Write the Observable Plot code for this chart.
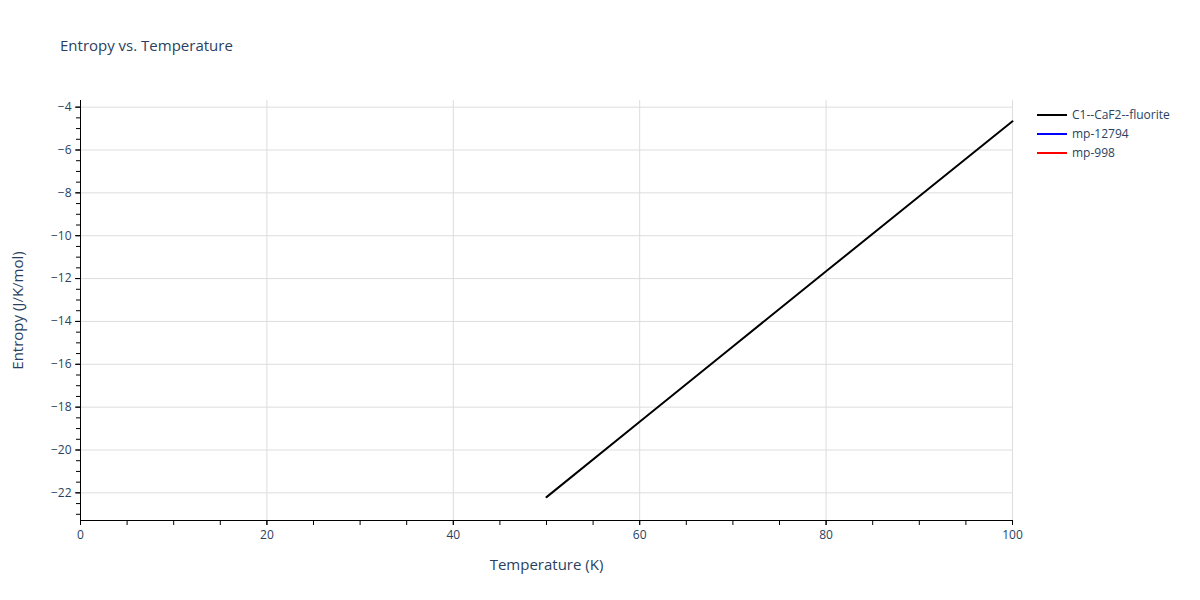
<!DOCTYPE html>
<html>
<head>
<meta charset="utf-8">
<script src="https://cdn.jsdelivr.net/npm/d3@7"></script>
<script src="https://cdn.jsdelivr.net/npm/@observablehq/plot@0.6"></script>
<style>
  html, body { margin: 0; padding: 0; background: #fff; }
  #wrap { position: relative; width: 1200px; height: 600px; font-family: "Open Sans", verdana, arial, sans-serif; color: #2a3f5f; }
  #title { position: absolute; left: 60px; top: 35px; font-size: 15px; }
  #legend { position: absolute; left: 1037px; top: 105px; font-size: 12px; }
  .item { display: flex; align-items: center; height: 19px; }
  .swatch { width: 30px; height: 2px; margin-right: 5px; }
</style>
</head>
<body>
<div id="wrap">
  <div id="chart"></div>
  <div id="title">Entropy vs. Temperature</div>
  <div id="legend"></div>
</div>
<script>
const seriesNames = ["C1--CaF2--fluorite", "mp-12794", "mp-998"];
const seriesColors = ["#000000", "#0000ff", "#ff0000"];
const temperature = [50, 60, 70, 80, 90, 100];
const entropyC1 = [-22.2, -18.68, -15.17, -11.66, -8.16, -4.66];
const xTicks = [0, 20, 40, 60, 80, 100];
const xMinorTicks = d3.range(0, 101, 5);
const yTicks = [-22, -20, -18, -16, -14, -12, -10, -8, -6, -4];
const yMinorTicks = d3.range(-23, -3.6, 0.5);
const xDomain = [0, 100];
const yDomain = [-23.29, -3.69];

const data = temperature.map((t, i) => ({t, s: entropyC1[i], series: seriesNames[0]}));

const chart = Plot.plot({
  width: 1200,
  height: 600,
  marginLeft: 80,
  marginRight: 188,
  marginTop: 100,
  marginBottom: 80,
  style: {fontFamily: "'Open Sans', verdana, arial, sans-serif", fontSize: "12px", color: "#2a3f5f", background: "white"},
  x: {domain: xDomain},
  y: {domain: yDomain},
  marks: [
    Plot.gridX(xTicks, {stroke: "#dddddd", strokeOpacity: 1}),
    Plot.gridY(yTicks, {stroke: "#dddddd", strokeOpacity: 1}),
    Plot.line(data, {x: "t", y: "s", stroke: seriesColors[0], strokeWidth: 2}),
    Plot.ruleX([xDomain[0]], {stroke: "black", strokeWidth: 1}),
    Plot.ruleY([yDomain[0]], {stroke: "black", strokeWidth: 1}),
    Plot.axisX(xMinorTicks, {tickSize: 5, text: null, stroke: "black", label: null}),
    Plot.axisX(xTicks, {tickSize: 5, tickPadding: 5, fill: "#2a3f5f", stroke: "black", fontSize: 12, label: null}),
    Plot.axisY(yMinorTicks, {tickSize: 4, text: null, stroke: "black", label: null}),
    Plot.axisY(yTicks, {tickSize: 5, tickPadding: 4, fill: "#2a3f5f", stroke: "black", fontSize: 12, label: null}),
    Plot.text(["Temperature (K)"], {frameAnchor: "bottom", dy: 49, fontSize: 15, fill: "#2a3f5f"}),
    Plot.text(["Entropy (J/K/mol)"], {frameAnchor: "left", dx: -62, rotate: -90, textAnchor: "middle", fontSize: 15, fill: "#2a3f5f"})
  ]
});
document.getElementById("chart").appendChild(chart);

const legend = document.getElementById("legend");
seriesNames.forEach((name, i) => {
  const item = document.createElement("div");
  item.className = "item";
  const sw = document.createElement("div");
  sw.className = "swatch";
  sw.style.background = seriesColors[i];
  const label = document.createElement("span");
  label.textContent = name;
  item.appendChild(sw);
  item.appendChild(label);
  legend.appendChild(item);
});
</script>
</body>
</html>
